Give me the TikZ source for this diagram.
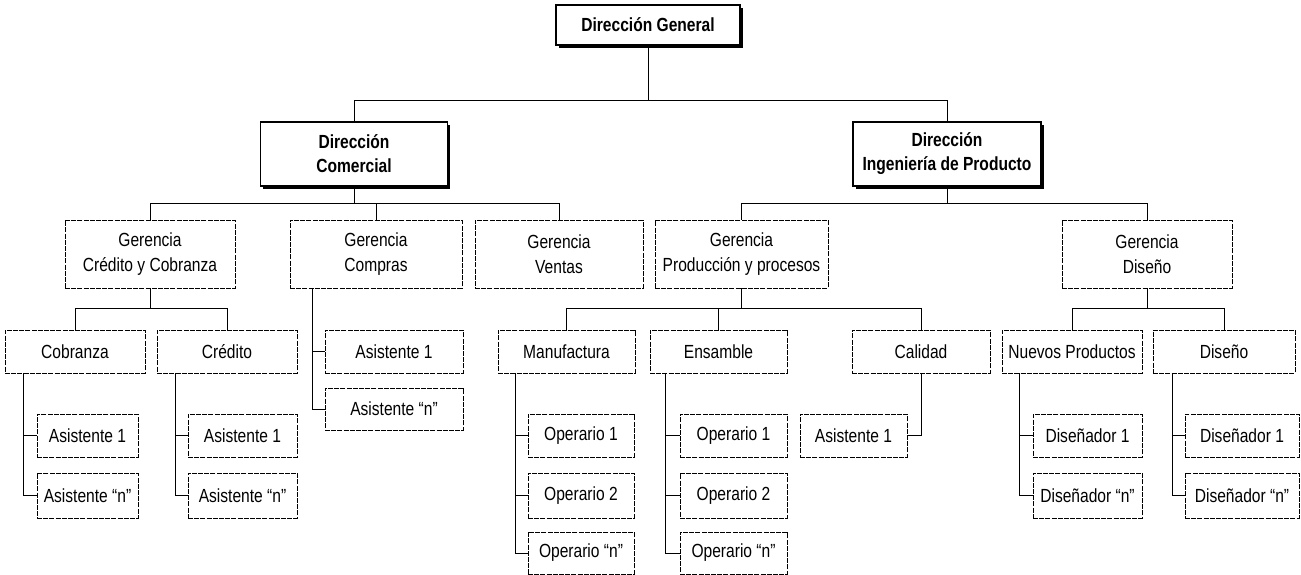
\documentclass[tikz,border=0pt]{standalone}
\usepackage{fontspec}
\setmainfont{Liberation Sans}[FakeStretch=0.82]
\usetikzlibrary{shadows}

\begin{document}
\begin{tikzpicture}[x=1pt,y=-1pt,
  every node/.style={inner sep=0pt, align=center, font=\fontsize{19}{25}\selectfont},
  bw/.style={minimum width=#1pt},
  bh/.style={minimum height=#1pt},
  headbox/.style={draw, line width=1.4pt, fill=white,
    drop shadow={shadow xshift=2.5pt, shadow yshift=-2.5pt, opacity=1, fill=black},
    font=\fontsize{19}{24}\selectfont\bfseries},
  unitbox/.style={draw, line width=0.6pt, dash pattern=on 5pt off 1.2pt, fill=white},
  link/.style={line width=0.8pt}
]
\useasboundingbox (0,0) rectangle (1301,574);

% top management
\node[headbox, bw=184, bh=40] (dg) at (648,25) {Dirección General};
\node[headbox, bw=187, bh=64] (dc) at (354,154) {Dirección\\Comercial};
\node[headbox, bw=188, bh=64] (di) at (947,154) {Dirección\\Ingeniería de Producto};

% managers
\node[unitbox, bw=170, bh=68] (gcc) at (150,254) {Gerencia\\Crédito y Cobranza};
\node[unitbox, bw=172, bh=68] (gcp) at (376,254) {Gerencia\\Compras};
\node[unitbox, bw=168, bh=68] (gve) at (559,254) {Gerencia\\Ventas};
\node[unitbox, bw=173, bh=68] (gpp) at (741.5,254) {Gerencia\\Producción y procesos};
\node[unitbox, bw=170, bh=68] (gdi) at (1147,254) {Gerencia\\Diseño};

% departments
\node[unitbox, bw=140, bh=43] (cob) at (75,351.5) {Cobranza};
\node[unitbox, bw=140, bh=43] (cre) at (227,351.5) {Crédito};
\node[unitbox, bw=138, bh=43] (cpa) at (394,351.5) {Asistente 1};
\node[unitbox, bw=138, bh=42] (cpn) at (394,409) {Asistente “n”};
\node[unitbox, bw=137, bh=43] (man) at (566.5,351.5) {Manufactura};
\node[unitbox, bw=137, bh=43] (ens) at (718.5,351.5) {Ensamble};
\node[unitbox, bw=138, bh=43] (cal) at (921,351.5) {Calidad};
\node[unitbox, bw=140, bh=43] (np) at (1072,351.5) {Nuevos Productos};
\node[unitbox, bw=142, bh=43] (dis) at (1224,351.5) {Diseño};

% staff
\node[unitbox, bw=101, bh=43] (coba) at (87.5,435.5) {Asistente 1};
\node[unitbox, bw=101, bh=45] (cobn) at (87.5,495.5) {Asistente “n”};
\node[unitbox, bw=109, bh=43] (crea) at (242.5,435.5) {Asistente 1};
\node[unitbox, bw=109, bh=45] (cren) at (242.5,495.5) {Asistente “n”};
\node[unitbox, bw=106, bh=43] (mano) at (581,435.5) {Operario 1};
\node[unitbox, bw=106, bh=45] (mant) at (581,495.5) {Operario 2};
\node[unitbox, bw=106, bh=42] (mann) at (581,553) {Operario “n”};
\node[unitbox, bw=107, bh=43] (enso) at (733.5,435.5) {Operario 1};
\node[unitbox, bw=107, bh=45] (enst) at (733.5,495.5) {Operario 2};
\node[unitbox, bw=107, bh=42] (ensn) at (733.5,553) {Operario “n”};
\node[unitbox, bw=107, bh=43] (cala) at (853.5,435.5) {Asistente 1};
\node[unitbox, bw=109, bh=43] (npa) at (1087.5,435.5) {Diseñador 1};
\node[unitbox, bw=109, bh=45] (npn) at (1087.5,495.5) {Diseñador “n”};
\node[unitbox, bw=114, bh=43] (disa) at (1242,435.5) {Diseñador 1};
\node[unitbox, bw=114, bh=45] (disn) at (1242,495.5) {Diseñador “n”};

% bus levels and trunk positions
\coordinate (b1) at (0,100);
\coordinate (b2) at (0,203);
\coordinate (b3) at (0,308);
\coordinate (tcob) at (23,0);
\coordinate (tcre) at (175,0);
\coordinate (tcp) at (312,0);
\coordinate (tman) at (515,0);
\coordinate (tens) at (665,0);
\coordinate (tnp) at (1019,0);
\coordinate (tdis) at (1172,0);

% top level
\draw[link] (dg.south) -- (dg.south |- b1);
\draw[link] (dc.north) -- (dc.north |- b1) -- (di.north |- b1) -- (di.north);

% managers
\draw[link] (dc.south) -- (dc.south |- b2);
\draw[link] (gcc.north) -- (gcc.north |- b2) -- (gve.north |- b2) -- (gve.north);
\draw[link] (gcp.north) -- (gcp.north |- b2);
\draw[link] (di.south) -- (di.south |- b2);
\draw[link] (gpp.north) -- (gpp.north |- b2) -- (gdi.north |- b2) -- (gdi.north);

% departments
\draw[link] (gcc.south) -- (gcc.south |- b3);
\draw[link] (cob.north) -- (cob.north |- b3) -- (cre.north |- b3) -- (cre.north);
\draw[link] (gpp.south) -- (gpp.south |- b3);
\draw[link] (man.north) -- (man.north |- b3) -- (cal.north |- b3) -- (cal.north);
\draw[link] (ens.north) -- (ens.north |- b3);
\draw[link] (gdi.south) -- (gdi.south |- b3);
\draw[link] (np.north) -- (np.north |- b3) -- (dis.north |- b3) -- (dis.north);

% purchasing staff
\draw[link] (gcp.south -| tcp) |- (cpn.west);
\draw[link] (cpa.west) -- (cpa.west -| tcp);

% staff trunks
\draw[link] (cob.south -| tcob) |- (cobn.west);
\draw[link] (coba.west) -- (coba.west -| tcob);
\draw[link] (cre.south -| tcre) |- (cren.west);
\draw[link] (crea.west) -- (crea.west -| tcre);
\draw[link] (man.south -| tman) |- (mann.west);
\draw[link] (mano.west) -- (mano.west -| tman);
\draw[link] (mant.west) -- (mant.west -| tman);
\draw[link] (ens.south -| tens) |- (ensn.west);
\draw[link] (enso.west) -- (enso.west -| tens);
\draw[link] (enst.west) -- (enst.west -| tens);
\draw[link] (cal.south) |- (cala.east);
\draw[link] (np.south -| tnp) |- (npn.west);
\draw[link] (npa.west) -- (npa.west -| tnp);
\draw[link] (dis.south -| tdis) |- (disn.west);
\draw[link] (disa.west) -- (disa.west -| tdis);
\end{tikzpicture}
\end{document}
